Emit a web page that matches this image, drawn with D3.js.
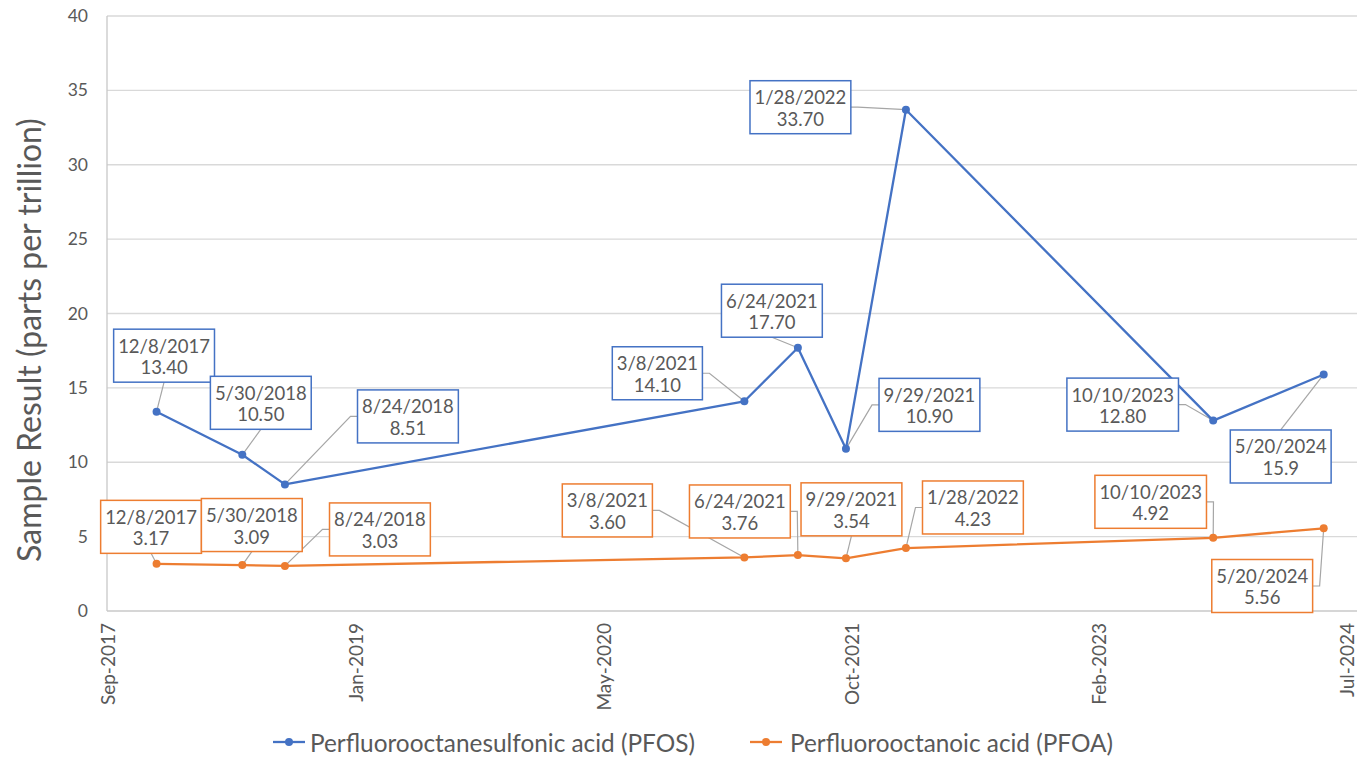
<!DOCTYPE html>
<html><head><meta charset="utf-8">
<script src="https://cdn.jsdelivr.net/npm/d3@7"></script>
<style>body{margin:0;background:#fff}svg{display:block}text{font-family:Lato,"Open Sans",sans-serif}</style>
</head><body>
<svg id="c" width="1361" height="760"></svg>
<script>
// ---- data ----
const sampleDates = ["2017-12-08","2018-05-30","2018-08-24","2021-03-08","2021-06-24","2021-09-29","2022-01-28","2023-10-10","2024-05-20"];
const dateLabels = ["12/8/2017","5/30/2018","8/24/2018","3/8/2021","6/24/2021","9/29/2021","1/28/2022","10/10/2023","5/20/2024"];
const pfosValues = [13.40,10.50,8.51,14.10,17.70,10.90,33.70,12.80,15.9];
const pfosValueLabels = ["13.40","10.50","8.51","14.10","17.70","10.90","33.70","12.80","15.9"];
const pfoaValues = [3.17,3.09,3.03,3.60,3.76,3.54,4.23,4.92,5.56];
const pfoaValueLabels = ["3.17","3.09","3.03","3.60","3.76","3.54","4.23","4.92","5.56"];
const xTickDates = ["2017-09-01","2019-01-14","2020-05-28","2021-10-10","2023-02-22","2024-07-06"];
const yTicks = [0,5,10,15,20,25,30,35,40];
const seriesNames = ["Perfluorooctanesulfonic acid (PFOS)","Perfluorooctanoic acid (PFOA)"];

// ---- layout (label box placement relative to point: dx, dy of box centre, leader side) ----
const pfosLabelLayout = [[7.5,-56,"b"],[18.5,-52,"b"],[123,-68,"l"],[-87,-28,"r"],[-26,-37,"b"],[83.5,-44,"l"],[-105.5,-2.5,"r"],[-90.5,-16,"r"],[-43,82,"t"]];
const pfoaLabelLayout = [[-5.5,-37,"b"],[9.5,-40,"b"],[95,-36.5,"l"],[-137,-47,"r"],[-58,-43.6,"r"],[5.5,-49,"b"],[67,-40.6,"l"],[-62.5,-36,"r"],[-61.5,57.7,"r"]];

const colors = ["#4472C4","#ED7D31"];
const textColor = "#595959";
const parse = d3.utcParse("%Y-%m-%d");
const svg = d3.select("#c");

function fitSize(sel, target){
  sel.attr("font-size",20);
  const len = sel.node().getComputedTextLength();
  const fs = 20*target/len;
  sel.attr("font-size",fs);
  return fs;
}

const x = d3.scaleUtc().domain([parse(xTickDates[0]), parse(xTickDates[xTickDates.length-1])]).range([108,1347]);
const y = d3.scaleLinear().domain([0,40]).range([611,16]);
const plotL = 107, plotR = 1357;

svg.append("g").selectAll("line").data(yTicks.filter(d=>d>0)).join("line")
  .attr("x1",plotL).attr("x2",plotR).attr("y1",d=>y(d)).attr("y2",d=>y(d))
  .attr("stroke","#d9d9d9").attr("stroke-width",1.3);
svg.append("line").attr("x1",plotL).attr("x2",plotR).attr("y1",y(0)).attr("y2",y(0)).attr("stroke","#c8c8c8").attr("stroke-width",1.3);
svg.append("line").attr("x1",plotL).attr("x2",plotL).attr("y1",y(0)).attr("y2",y(40)).attr("stroke","#c8c8c8").attr("stroke-width",1.3);

// y axis labels
const yAxis = d3.axisLeft(y).tickValues(yTicks).tickSize(0).tickPadding(0);
const gy = svg.append("g").attr("transform","translate(88,0)").call(yAxis);
gy.select(".domain").remove();
gy.attr("font-size",null).attr("font-family",null);
gy.selectAll("text").attr("font-size",17.5).attr("fill",textColor);

// x axis labels
const fmt = d3.utcFormat("%b-%Y");
const xAxis = d3.axisBottom(x).tickValues(xTickDates.map(parse)).tickFormat(fmt).tickSize(0);
const gx = svg.append("g").attr("transform","translate(0,623)").call(xAxis);
gx.select(".domain").remove();
gx.attr("font-size",null).attr("font-family",null);
gx.selectAll("text").attr("fill",textColor).attr("font-size",19)
  .attr("transform","rotate(-90)").attr("text-anchor","end").attr("x",0).attr("y",0).attr("dy","0.35em");

// y title
const title = svg.append("text").attr("transform","translate(28,340) rotate(-90)").attr("text-anchor","middle")
  .attr("dominant-baseline","central").attr("fill",textColor).text("Sample Result (parts per trillion)");
fitSize(title, 444);

// series
const series = [
  {vals:pfosValues, labels:pfosValueLabels, layout:pfosLabelLayout, color:colors[0]},
  {vals:pfoaValues, labels:pfoaValueLabels, layout:pfoaLabelLayout, color:colors[1]}
];
const line = d3.line().x(d=>x(d.date)).y(d=>y(d.v));
const gLeaders = svg.append("g");
series.forEach(s=>{
  const pts = sampleDates.map((d,i)=>({date:parse(d), v:s.vals[i]}));
  svg.append("path").datum(pts).attr("d",line).attr("fill","none").attr("stroke",s.color).attr("stroke-width",2.3).attr("stroke-linejoin","round");
  svg.append("g").selectAll("circle").data(pts).join("circle").attr("cx",d=>x(d.date)).attr("cy",d=>y(d.v)).attr("r",4).attr("fill",s.color);
});
series.forEach(s=>{
  sampleDates.forEach((d,i)=>{
    const px = x(parse(d)), py = y(s.vals[i]);
    const [dx,dy,side] = s.layout[i];
    const cx = px+dx, cy = py+dy;
    const g = svg.append("g");
    const rect = g.append("rect").attr("fill","#fff").attr("stroke",s.color).attr("stroke-width",1.5);
    const t1 = g.append("text").attr("x",cx).attr("y",cy-3).attr("text-anchor","middle").attr("font-size",18.5).attr("fill",textColor).text(dateLabels[i]);
    const t2 = g.append("text").attr("x",cx).attr("y",cy+18.5).attr("text-anchor","middle").attr("font-size",18.5).attr("fill",textColor).text(s.labels[i]);
    const w = Math.max(t1.node().getComputedTextLength(), t2.node().getComputedTextLength()) + 9;
    const h = 53;
    rect.attr("x",cx-w/2).attr("y",cy-h/2).attr("width",w).attr("height",h);
    let pts;
    if (side==="b") pts = [[cx,cy+h/2],[px,py]];
    else if (side==="t") pts = [[cx,cy-h/2],[px,py]];
    else if (side==="l") pts = [[cx-w/2,cy],[cx-w/2-7,cy],[px,py]];
    else pts = [[cx+w/2,cy],[cx+w/2+7,cy],[px,py]];
    gLeaders.append("path").attr("d",d3.line()(pts)).attr("fill","none").attr("stroke","#a6a6a6").attr("stroke-width",1.2);
  });
});

// legend
const legendPos = [[273,310,385],[750,790,323]];
seriesNames.forEach((n,i)=>{
  const [lx,tx,tw] = legendPos[i];
  svg.append("line").attr("x1",lx).attr("x2",lx+32).attr("y1",742).attr("y2",742).attr("stroke",colors[i]).attr("stroke-width",2.3);
  svg.append("circle").attr("cx",lx+16).attr("cy",742).attr("r",4).attr("fill",colors[i]);
  const t = svg.append("text").attr("x",tx).attr("y",742).attr("dominant-baseline","central").attr("fill",textColor).text(n);
  fitSize(t, tw);
});
</script>
</body></html>
